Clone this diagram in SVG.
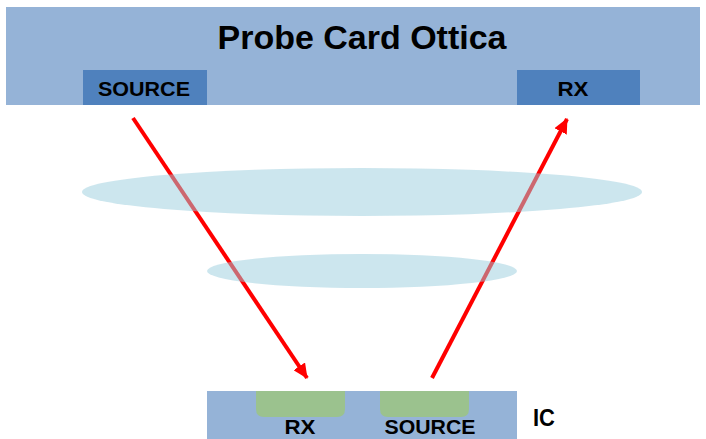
<svg xmlns="http://www.w3.org/2000/svg" width="706" height="439" viewBox="0 0 706 439">
<defs>
<style>
.bar{fill:#95b3d7}
.box{fill:#4f81bd}
.pad{fill:#9bc28e}
.lens{fill:#99cedd;fill-opacity:0.5}
.t{font-family:"Liberation Sans",Arial,sans-serif;font-weight:bold;fill:#000}
.ray{stroke:#ff0000;stroke-width:4;fill:none;marker-end:url(#ah)}
</style>
<marker id="ah" markerUnits="userSpaceOnUse" markerWidth="16" markerHeight="14" refX="14" refY="7" orient="auto">
<path d="M0,0 L15,7 L0,14 z" fill="#ff0000"/>
</marker>
</defs>
<rect width="706" height="439" fill="#fff"/>
<g id="probe-card">
<rect class="bar" x="6" y="7" width="694" height="98"/>
<text class="t" x="362" y="49" font-size="33" text-anchor="middle" textLength="289" lengthAdjust="spacingAndGlyphs">Probe Card Ottica</text>
</g>
<g id="source-top">
<rect class="box" x="83" y="70" width="124" height="35"/>
<text class="t" x="144" y="96" font-size="21" text-anchor="middle" textLength="92" lengthAdjust="spacingAndGlyphs">SOURCE</text>
</g>
<g id="rx-top">
<rect class="box" x="517" y="70" width="123" height="35"/>
<text class="t" x="573" y="96" font-size="21" text-anchor="middle" textLength="31" lengthAdjust="spacingAndGlyphs">RX</text>
</g>
<g id="connectors">
<line class="ray" x1="133" y1="118" x2="307" y2="378"/>
<line class="ray" x1="432" y1="378" x2="567" y2="119"/>
</g>
<g id="lens1">
<ellipse class="lens" cx="362" cy="192" rx="280" ry="24"/>
</g>
<g id="lens2">
<ellipse class="lens" cx="362" cy="271" rx="155" ry="17"/>
</g>
<g id="ic">
<rect class="bar" x="207" y="391" width="310" height="48"/>
<text class="t" x="544" y="426" font-size="23" text-anchor="middle" textLength="22" lengthAdjust="spacingAndGlyphs">IC</text>
</g>
<g id="rx-ic">
<path class="pad" d="M256,391 H345 V409 Q345,417 337,417 H264 Q256,417 256,409 Z"/>
<text class="t" x="300" y="434" font-size="21" text-anchor="middle" textLength="31" lengthAdjust="spacingAndGlyphs">RX</text>
</g>
<g id="source-ic">
<path class="pad" d="M380,391 H469 V409 Q469,417 461,417 H388 Q380,417 380,409 Z"/>
<text class="t" x="430" y="434" font-size="21" text-anchor="middle" textLength="91" lengthAdjust="spacingAndGlyphs">SOURCE</text>
</g>
</svg>
